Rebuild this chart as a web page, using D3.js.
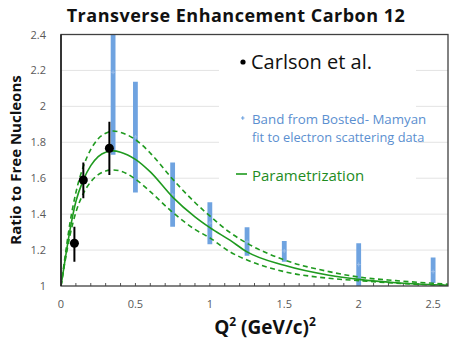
<!DOCTYPE html>
<html lang="en">
<head>
  <meta charset="UTF-8">
  <title>Transverse Enhancement Carbon 12</title>
  <script src="https://d3js.org/d3.v7.min.js"></script>
  <style>
    body {
      margin: 0;
      background: #fff;
    }

    svg {
      display: block;
      font-family: "Open Sans", sans-serif;
    }

    .tick-label {
      font-size: 11px;
      fill: #595959;
    }

    .grid line {
      stroke: #e3e3e3;
      stroke-width: 1px;
    }
  </style>
</head>
<body>
  <svg width="457" height="346"></svg>

  <script>
    // Carlson et al. points: Q2, ratio, low, high
    const carlsonQ2 = [0.09, 0.15, 0.325];
    const carlsonVal = [1.238, 1.59, 1.767];
    const carlsonLow = [1.135, 1.488, 1.618];
    const carlsonHigh = [1.33, 1.687, 1.915];

    // Bosted-Mamyan band
    const bandQ2 = [0.35, 0.5, 0.75, 1.0, 1.25, 1.5, 2.0, 2.5];
    const bandMid = [2.19, 1.83, 1.507, 1.35, 1.247, 1.195, 1.12, 1.08];
    const bandLow = [1.73, 1.52, 1.33, 1.232, 1.169, 1.135, 1.0, 1.017];
    const bandHigh = [2.65, 2.137, 1.687, 1.466, 1.327, 1.25, 1.238, 1.158];

    // parametrization curves
    const curveQ2 = [0, 0.03, 0.06, 0.1, 0.15, 0.2, 0.25, 0.3, 0.35, 0.4, 0.5, 0.6, 0.75, 0.9, 1.0, 1.135, 1.25, 1.5, 1.8, 2.0, 2.25, 2.5, 2.6];
    const paramMid = [1.0, 1.16, 1.31, 1.47, 1.59, 1.67, 1.72, 1.745, 1.752, 1.745, 1.705, 1.635, 1.495, 1.385, 1.325, 1.255, 1.19, 1.115, 1.06, 1.037, 1.018, 1.007, 1.004];
    const paramUp = [1.0, 1.18, 1.35, 1.52, 1.665, 1.76, 1.82, 1.85, 1.863, 1.855, 1.815, 1.74, 1.595, 1.465, 1.39, 1.298, 1.238, 1.145, 1.08, 1.05, 1.03, 1.015, 1.01];
    const paramDown = [1.0, 1.15, 1.28, 1.41, 1.515, 1.58, 1.62, 1.64, 1.646, 1.64, 1.595, 1.525, 1.41, 1.315, 1.268, 1.19, 1.145, 1.08, 1.043, 1.03, 1.016, 1.006, 1.004];

    const xTicks = [0, 0.5, 1, 1.5, 2, 2.5];
    const yTicks = [1, 1.2, 1.4, 1.6, 1.8, 2, 2.2, 2.4];

    const svg = d3.select("svg");
    const mLeft = 61, mRight = 448, mTop = 34.5, mBottom = 286;

    const x = d3.scaleLinear().domain([0, 2.6]).range([mLeft, mRight]);
    const y = d3.scaleLinear().domain([1, 2.4]).range([mBottom, mTop]);

    svg.append("defs").append("clipPath").attr("id", "plot")
      .append("rect")
      .attr("x", mLeft).attr("y", mTop)
      .attr("width", mRight - mLeft).attr("height", mBottom - mTop);

    // gridlines
    svg.append("g").attr("class", "grid")
      .selectAll("line")
      .data(yTicks.slice(1, -1))
      .enter().append("line")
      .attr("x1", mLeft).attr("x2", mRight)
      .attr("y1", d => y(d)).attr("y2", d => y(d));

    // legend background hides the grid
    svg.append("rect")
      .attr("x", 219).attr("y", 36)
      .attr("width", 197).attr("height", 160)
      .attr("fill", "#fff");

    // y tick labels
    svg.append("g")
      .selectAll("text")
      .data(yTicks)
      .enter().append("text")
      .attr("class", "tick-label")
      .attr("x", 46)
      .attr("y", d => y(d) + 4)
      .attr("text-anchor", "end")
      .text(d => d3.format("~g")(d));

    // x tick labels
    svg.append("g")
      .selectAll("text")
      .data(xTicks)
      .enter().append("text")
      .attr("class", "tick-label")
      .attr("x", d => x(d))
      .attr("y", 308)
      .attr("text-anchor", "middle")
      .text(d => d3.format("~g")(d));

    // minor ticks on the bottom axis
    svg.append("g")
      .selectAll("line")
      .data(d3.range(1, 26).map(i => i / 10))
      .enter().append("line")
      .attr("x1", d => x(d)).attr("x2", d => x(d))
      .attr("y1", mBottom).attr("y2", mBottom - 3)
      .attr("stroke", "#555")
      .attr("stroke-width", 1);

    const plot = svg.append("g").attr("clip-path", "url(#plot)");

    // blue band bars
    plot.selectAll(".band")
      .data(bandQ2)
      .enter().append("line")
      .attr("x1", d => x(d)).attr("x2", d => x(d))
      .attr("y1", (d, i) => y(bandLow[i]))
      .attr("y2", (d, i) => y(bandHigh[i]))
      .attr("stroke", "#6fa3e0")
      .attr("stroke-width", 4.8);

    plot.selectAll(".bandmid")
      .data(bandQ2)
      .enter().append("path")
      .attr("d", (d, i) => `M${x(d) - 2},${y(bandMid[i])}h4M${x(d)},${y(bandMid[i]) - 2}v4`)
      .attr("stroke", "#9bbde8")
      .attr("stroke-width", 1);

    // parametrization curves
    const line = d3.line()
      .x(d => x(d[0]))
      .y(d => y(d[1]))
      .curve(d3.curveMonotoneX);

    const curves = [
      { vals: paramUp, dash: "5,3.5" },
      { vals: paramDown, dash: "5,3.5" },
      { vals: paramMid, dash: null }
    ];

    plot.selectAll(".param")
      .data(curves)
      .enter().append("path")
      .attr("d", c => line(curveQ2.map((q, i) => [q, c.vals[i]])))
      .attr("fill", "none")
      .attr("stroke", "#1f9a1f")
      .attr("stroke-width", 1.6)
      .attr("stroke-dasharray", c => c.dash);

    // Carlson points
    plot.selectAll(".err")
      .data(carlsonQ2)
      .enter().append("line")
      .attr("x1", d => x(d)).attr("x2", d => x(d))
      .attr("y1", (d, i) => y(carlsonLow[i]))
      .attr("y2", (d, i) => y(carlsonHigh[i]))
      .attr("stroke", "#000")
      .attr("stroke-width", 2);

    plot.selectAll(".pt")
      .data(carlsonQ2)
      .enter().append("circle")
      .attr("cx", d => x(d))
      .attr("cy", (d, i) => y(carlsonVal[i]))
      .attr("r", 4.5)
      .attr("fill", "#000");

    // frame
    svg.append("rect")
      .attr("x", mLeft).attr("y", mTop)
      .attr("width", mRight - mLeft).attr("height", mBottom - mTop)
      .attr("fill", "none")
      .attr("stroke", "#404040")
      .attr("stroke-width", 1.3);

    svg.append("line")
      .attr("x1", mLeft).attr("x2", mLeft)
      .attr("y1", mTop).attr("y2", mBottom)
      .attr("stroke", "#222").attr("stroke-width", 1.6);

    // legend
    svg.append("circle").attr("cx", 243).attr("cy", 62).attr("r", 2.6).attr("fill", "#000");
    svg.append("text")
      .attr("x", 251).attr("y", 69)
      .attr("font-size", 20)
      .attr("fill", "#111")
      .text("Carlson et al.");

    svg.append("path")
      .attr("d", "M241,118h3.5M242.75,116.25v3.5")
      .attr("stroke", "#6fa3e0").attr("stroke-width", 1.2);
    svg.append("text")
      .attr("x", 252).attr("y", 124)
      .attr("font-size", 13.3)
      .attr("fill", "#5b8fd0")
      .text("Band from Bosted- Mamyan");
    svg.append("text")
      .attr("x", 252).attr("y", 142)
      .attr("font-size", 12.8)
      .attr("fill", "#5b8fd0")
      .text("fit to electron scattering data");

    svg.append("line")
      .attr("x1", 236).attr("x2", 247)
      .attr("y1", 174).attr("y2", 174)
      .attr("stroke", "#1f9a1f").attr("stroke-width", 1.6);
    svg.append("text")
      .attr("x", 252).attr("y", 181)
      .attr("font-size", 15)
      .attr("fill", "#1e8c1e")
      .text("Parametrization");

    // titles
    svg.append("text")
      .attr("x", 236).attr("y", 22)
      .attr("text-anchor", "middle")
      .attr("font-size", 18)
      .attr("letter-spacing", 0.5)
      .attr("font-weight", "bold")
      .attr("fill", "#111")
      .text("Transverse Enhancement Carbon 12");

    svg.append("text")
      .attr("transform", "translate(21,160) rotate(-90)")
      .attr("text-anchor", "middle")
      .attr("font-size", 15)
      .attr("font-weight", "bold")
      .attr("fill", "#111")
      .text("Ratio to Free Nucleons");

    const xl = svg.append("text")
      .attr("x", 265).attr("y", 334)
      .attr("text-anchor", "middle")
      .attr("font-size", 19)
      .attr("font-weight", "bold")
      .attr("fill", "#111");
    xl.append("tspan").text("Q");
    xl.append("tspan").attr("font-size", 12).attr("dy", -8).text("2");
    xl.append("tspan").attr("dy", 8).text(" (GeV/c)");
    xl.append("tspan").attr("font-size", 12).attr("dy", -8).text("2");
  </script>
</body>
</html>
